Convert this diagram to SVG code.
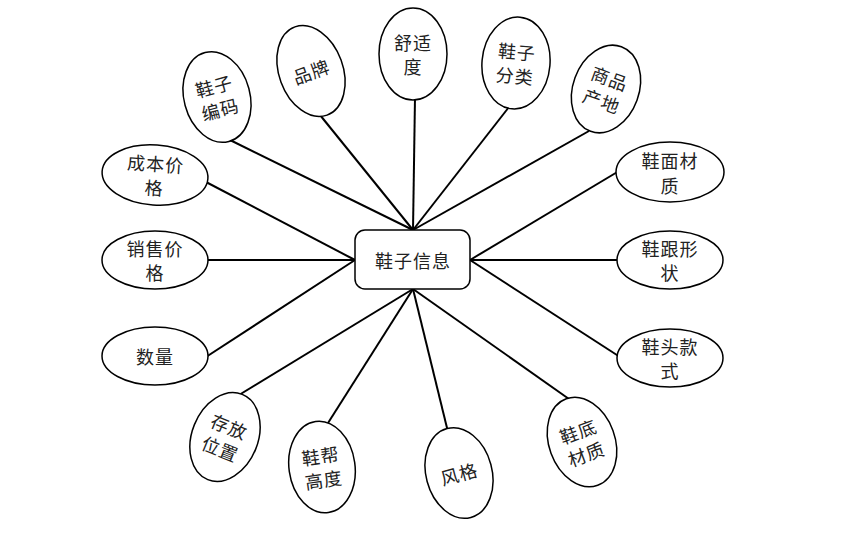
<svg xmlns="http://www.w3.org/2000/svg" width="855" height="534" viewBox="0 0 855 534">
<style>
.e{fill:#fff;stroke:#000;stroke-width:1.5}
.t{font-family:"Noto Sans CJK SC","Noto Sans",sans-serif;font-size:18px;fill:#222;text-anchor:middle;dominant-baseline:central;letter-spacing:1px}
.c line{stroke:#000;stroke-width:2}
</style>
<rect width="855" height="534" fill="#fff"/>
<g class="c" id="connectors">
<line x1="413" y1="230" x2="230" y2="140"/>
<line x1="413" y1="230" x2="320" y2="115"/>
<line x1="413" y1="230" x2="415" y2="97"/>
<line x1="413" y1="230" x2="509" y2="107"/>
<line x1="413" y1="230" x2="589" y2="131"/>
<line x1="470" y1="260" x2="619" y2="171"/>
<line x1="470" y1="260" x2="620" y2="260"/>
<line x1="470" y1="260" x2="620" y2="357"/>
<line x1="413" y1="289" x2="569" y2="399"/>
<line x1="413" y1="289" x2="448" y2="432"/>
<line x1="413" y1="289" x2="328" y2="423"/>
<line x1="413" y1="289" x2="239" y2="395"/>
<line x1="355" y1="260" x2="206" y2="357"/>
<line x1="355" y1="260" x2="206" y2="260"/>
<line x1="355" y1="260" x2="206" y2="182"/>
</g>
<g id="center">
<rect x="355" y="230" width="115" height="59" rx="10" class="e"/>
<text class="t" x="413" y="260">鞋子信息</text>
</g>
<g id="n-bianma" transform="translate(217,97) rotate(-15)">
<ellipse class="e" rx="33" ry="46"/>
<text class="t" y="-12">鞋子</text><text class="t" y="12">编码</text>
</g>
<g id="n-pinpai" transform="translate(311,71) rotate(-20)">
<ellipse class="e" rx="32" ry="47"/>
<text class="t" y="0">品牌</text>
</g>
<g id="n-shushidu" transform="translate(413,54)">
<ellipse class="e" rx="34" ry="46"/>
<text class="t" y="-12">舒适</text><text class="t" y="12">度</text>
</g>
<g id="n-fenlei" transform="translate(516,63) rotate(5)">
<ellipse class="e" rx="34" ry="46"/>
<text class="t" y="-12">鞋子</text><text class="t" y="12">分类</text>
</g>
<g id="n-chandi" transform="translate(606,89) rotate(20)">
<ellipse class="e" rx="33" ry="45"/>
<text class="t" y="-12">商品</text><text class="t" y="12">产地</text>
</g>
<g id="n-mianliao" transform="translate(670,172)">
<ellipse class="e" rx="54" ry="30"/>
<text class="t" y="-12">鞋面材</text><text class="t" y="13">质</text>
</g>
<g id="n-xinggen" transform="translate(670,260)">
<ellipse class="e" rx="53" ry="29"/>
<text class="t" y="-12">鞋跟形</text><text class="t" y="12">状</text>
</g>
<g id="n-kuanshi" transform="translate(670,358)">
<ellipse class="e" rx="53" ry="29"/>
<text class="t" y="-12">鞋头款</text><text class="t" y="12">式</text>
</g>
<g id="n-dicai" transform="translate(582,442) rotate(-20)">
<ellipse class="e" rx="33" ry="46"/>
<text class="t" y="-12">鞋底</text><text class="t" y="12">材质</text>
</g>
<g id="n-fengge" transform="translate(459,473) rotate(-15)">
<ellipse class="e" rx="33" ry="46"/>
<text class="t" y="0">风格</text>
</g>
<g id="n-gaodu" transform="translate(322,467) rotate(-8)">
<ellipse class="e" rx="33" ry="46"/>
<text class="t" y="-12">鞋帮</text><text class="t" y="12">高度</text>
</g>
<g id="n-weizhi" transform="translate(225,437) rotate(22)">
<ellipse class="e" rx="33" ry="46"/>
<text class="t" y="-12">存放</text><text class="t" y="12">位置</text>
</g>
<g id="n-shuliang" transform="translate(155,356)">
<ellipse class="e" rx="53" ry="29"/>
<text class="t" y="0">数量</text>
</g>
<g id="n-shoujia" transform="translate(155,260)">
<ellipse class="e" rx="53" ry="29"/>
<text class="t" y="-12">销售价</text><text class="t" y="12">格</text>
</g>
<g id="n-chengben" transform="translate(155,175) rotate(4)">
<ellipse class="e" rx="53" ry="30"/>
<text class="t" y="-12">成本价</text><text class="t" y="12">格</text>
</g>
</svg>
